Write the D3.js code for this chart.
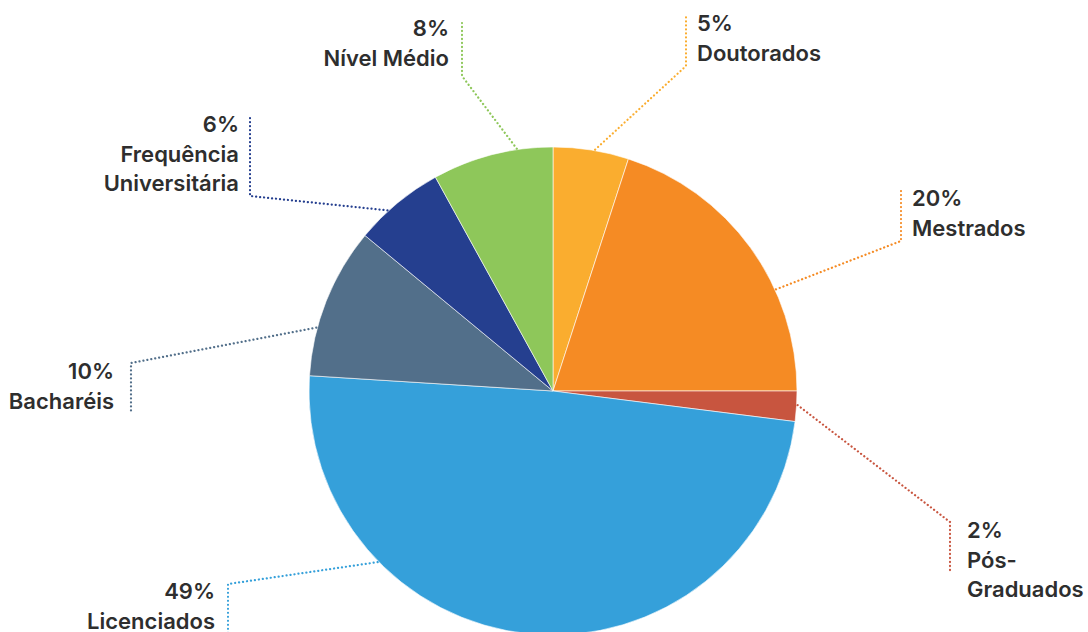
<!DOCTYPE html>
<html>
<head>
<meta charset="utf-8">
<script src="https://cdn.jsdelivr.net/npm/d3@7"></script>
<style>
  html, body { margin: 0; padding: 0; background: #fff; }
  svg text { font-family: "Inter", "Lato", sans-serif; font-weight: 600; fill: #2e2e2e; }
</style>
</head>
<body>
<div id="chart"></div>
<script>
// Data
const categories = ["Doutorados", "Mestrados", "Pós-Graduados", "Licenciados", "Bacharéis", "Frequência Universitária", "Nível Médio"];
const percents = [5, 20, 2, 49, 10, 6, 8];
const colors = ["#FAAD2F", "#F58B24", "#C8553F", "#35A0DA", "#526F8A", "#253F8F", "#8EC75A"];
// label lines broken manually like the original
const labelLines = [
  ["Doutorados"],
  ["Mestrados"],
  ["Pós-", "Graduados"],
  ["Licenciados"],
  ["Bacharéis"],
  ["Frequência", "Universitária"],
  ["Nível Médio"]
];

// Layout of leader lines / labels (angle where line leaves pie, elbow point, end of vertical, text x + anchor, first baseline)
const labelLayout = [
  { ang: 9.9,   elbow: [686, 66],  endY: 17,  tx: 697, anchor: "start", y0: 31 },
  { ang: 65.5,  elbow: [901, 241], endY: 190, tx: 912, anchor: "start", y0: 206 },
  { ang: 93.3,  elbow: [950, 522], endY: 571, tx: 967, anchor: "start", y0: 538 },
  { ang: 225.7, elbow: [228, 584], endY: 640, tx: 215, anchor: "end",   y0: 599 },
  { ang: 285,   elbow: [131, 363], endY: 412, tx: 114, anchor: "end",   y0: 379 },
  { ang: 317.5, elbow: [250, 196], endY: 118, tx: 239, anchor: "end",   y0: 132 },
  { ang: 351.5, elbow: [462, 76],  endY: 23,  tx: 449, anchor: "end",   y0: 36 }
];

const width = 1088, height = 632;
const cx = 553, cy = 391, radius = 244;
const lineH = 29.5;

const svg = d3.select("#chart")
  .append("svg")
  .attr("width", width)
  .attr("height", height);

const data = categories.map((c, i) => ({ name: c, value: percents[i], color: colors[i], lines: labelLines[i], lay: labelLayout[i] }));

const pie = d3.pie().sort(null).value(d => d.value);
const arc = d3.arc().innerRadius(0).outerRadius(radius);

const g = svg.append("g").attr("transform", `translate(${cx},${cy})`);

g.selectAll("path")
  .data(pie(data))
  .enter()
  .append("path")
    .attr("d", arc)
    .attr("fill", d => d.data.color)
    .attr("stroke", "#fff")
    .attr("stroke-width", 0.6);

// Leader lines
data.forEach(d => {
  const a = d.lay.ang * Math.PI / 180;
  const sx = cx + (radius + 1) * Math.sin(a);
  const sy = cy - (radius + 1) * Math.cos(a);
  const [ex, ey] = d.lay.elbow;
  svg.append("polyline")
    .attr("points", [[sx, sy], [ex, ey], [ex, d.lay.endY]].map(p => p.join(",")).join(" "))
    .attr("fill", "none")
    .attr("stroke", d.color)
    .attr("stroke-width", 2.2)
    .attr("stroke-linecap", "round")
    .attr("stroke-dasharray", "0.1,3.9");

  const t = svg.append("text")
    .attr("text-anchor", d.lay.anchor)
    .style("font-size", "22px");
  [d.value + "%"].concat(d.lines).forEach((s, i) => {
    t.append("tspan")
      .attr("x", d.lay.tx)
      .attr("y", d.lay.y0 + i * lineH)
      .text(s);
  });
});
</script>
</body>
</html>
